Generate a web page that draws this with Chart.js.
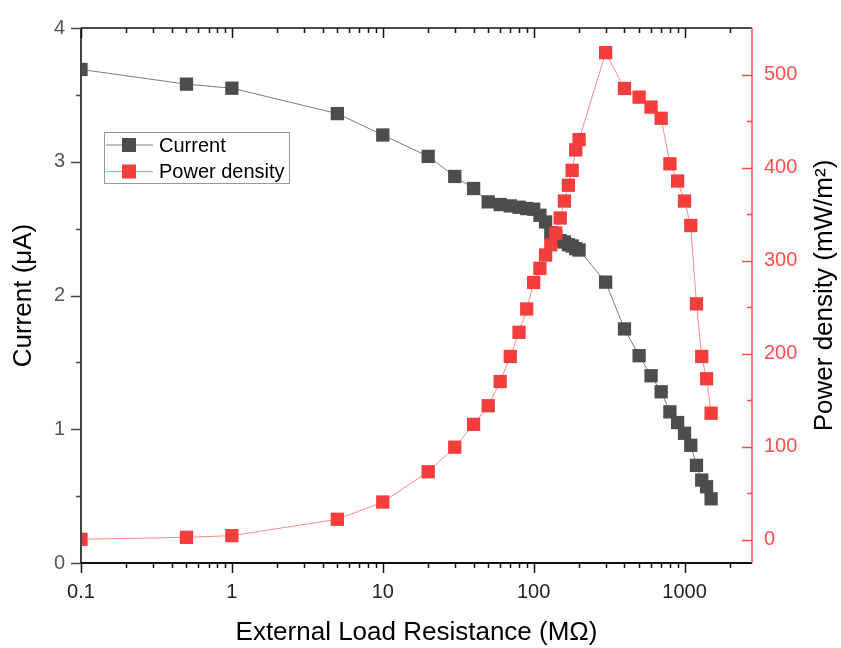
<!DOCTYPE html>
<html>
<head>
<meta charset="utf-8">
<script src="https://cdn.jsdelivr.net/npm/chart.js@4.4.0/dist/chart.umd.min.js"></script>
<style>
  body { margin: 0; background: #fff; }
  #wrap { width: 841px; height: 648px; position: relative; }
</style>
</head>
<body>
<div id="wrap"><canvas id="chart"></canvas></div>
<script>
// external load resistance (MOhm)
var resistance = [0.1, 0.5, 1, 5, 10, 20, 30, 40, 50, 60, 70, 80, 90, 100, 110, 120, 130, 140, 150,
  160, 170, 180, 190, 200, 300, 400, 500, 600, 700, 800, 900, 1000, 1100, 1200, 1300, 1400, 1500];
// current (uA)
var current = [3.69, 3.58, 3.55, 3.36, 3.20, 3.04, 2.89, 2.80, 2.70, 2.68, 2.67, 2.66, 2.65, 2.645, 2.60,
  2.55, 2.47, 2.44, 2.41, 2.40, 2.38, 2.37, 2.35, 2.34, 2.10, 1.75, 1.55, 1.40, 1.28, 1.13, 1.05, 0.97,
  0.88, 0.73, 0.62, 0.57, 0.48];
// power density (mW/m2)
var power = [0.5, 2.6, 4.4, 22, 40.5, 73, 99.5, 124, 144, 170, 197, 223, 248, 276.5, 291.7, 306, 317,
  329.6, 345.8, 364, 381, 397, 419, 430, 523.5, 485, 475.7, 465, 453, 404, 385.5, 364, 337.7, 253.5,
  197, 173, 136];

var xTicks = [0.1, 0.2, 0.3, 0.4, 0.5, 0.6, 0.7, 0.8, 0.9, 1, 2, 3, 4, 5, 6, 7, 8, 9,
  10, 20, 30, 40, 50, 60, 70, 80, 90, 100, 200, 300, 400, 500, 600, 700, 800, 900, 1000, 2000];
var xLabels = [0.1, 1, 10, 100, 1000];
var currentTicks = [0, 0.5, 1, 1.5, 2, 2.5, 3, 3.5, 4];
var currentLabels = [0, 1, 2, 3, 4];
var powerTicks = [0, 50, 100, 150, 200, 250, 300, 350, 400, 450, 500];
var powerLabels = [0, 100, 200, 300, 400, 500];

var RED = "#ff4d4d";
var FONT = "'Liberation Sans', Arial, sans-serif";

function setTicks(list) {
  return function (scale) {
    scale.ticks = list.map(function (v) { return { value: v }; });
  };
}

var frame = {
  id: "frame",
  afterDraw: function (chart) {
    var ctx = chart.ctx, ca = chart.chartArea;
    var sx = chart.scales.x, sy = chart.scales.y, sy2 = chart.scales.y2;
    ctx.save();

    // axis lines
    ctx.lineWidth = 2;
    ctx.strokeStyle = "#444";
    ctx.beginPath(); ctx.moveTo(ca.left, ca.top); ctx.lineTo(ca.left, ca.bottom); ctx.stroke();
    ctx.strokeStyle = "#111";
    ctx.beginPath(); ctx.moveTo(ca.left - 1, ca.bottom); ctx.lineTo(ca.right, ca.bottom); ctx.stroke();
    ctx.lineWidth = 1.5;
    ctx.beginPath(); ctx.moveTo(ca.left, ca.top); ctx.lineTo(ca.right, ca.top); ctx.stroke();
    ctx.strokeStyle = RED;
    ctx.beginPath(); ctx.moveTo(ca.right, ca.top); ctx.lineTo(ca.right, ca.bottom); ctx.stroke();

    // x ticks, bottom (outward) and top (inward)
    ctx.strokeStyle = "#111";
    ctx.lineWidth = 1.5;
    xTicks.forEach(function (v) {
      var px = Math.round(sx.getPixelForValue(v)) + 0.5;
      var len = xLabels.indexOf(v) >= 0 ? 10 : 5;
      ctx.beginPath();
      ctx.moveTo(px, ca.bottom); ctx.lineTo(px, ca.bottom + len);
      ctx.moveTo(px, ca.top); ctx.lineTo(px, ca.top + len);
      ctx.stroke();
    });

    // left ticks (outward)
    ctx.strokeStyle = "#444";
    currentTicks.forEach(function (v) {
      var py = Math.round(sy.getPixelForValue(v)) + 0.5;
      var len = currentLabels.indexOf(v) >= 0 ? 10 : 5;
      ctx.beginPath(); ctx.moveTo(ca.left, py); ctx.lineTo(ca.left - len, py); ctx.stroke();
    });

    // right ticks (inward)
    ctx.strokeStyle = RED;
    powerTicks.forEach(function (v) {
      var py = Math.round(sy2.getPixelForValue(v)) + 0.5;
      var len = powerLabels.indexOf(v) >= 0 ? 10 : 5;
      ctx.beginPath(); ctx.moveTo(ca.right, py); ctx.lineTo(ca.right - len, py); ctx.stroke();
    });

    // right axis title, reading bottom to top
    ctx.fillStyle = "#000";
    ctx.font = "26px " + FONT;
    ctx.textAlign = "center";
    ctx.textBaseline = "middle";
    ctx.translate(825, (ca.top + ca.bottom) / 2);
    ctx.rotate(-Math.PI / 2);
    ctx.fillText("Power density (mW/m\u00b2)", 0, 0);
    ctx.setTransform(1, 0, 0, 1, 0, 0);

    // legend box
    var lx = 104, ly = 132, lw = 185, lh = 51;
    ctx.strokeStyle = "#999";
    ctx.lineWidth = 1;
    ctx.strokeRect(lx + 0.5, ly + 0.5, lw, lh);
    ctx.font = "20px " + FONT;
    ctx.textAlign = "left";
    chart.data.datasets.slice().reverse().forEach(function (ds, i) {
      var ry = ly + 13 + i * 26.5;
      ctx.strokeStyle = ds.borderColor;
      ctx.beginPath(); ctx.moveTo(lx + 2, ry); ctx.lineTo(lx + 49, ry); ctx.stroke();
      ctx.fillStyle = ds.pointBackgroundColor;
      ctx.fillRect(lx + 18, ry - 7, 14, 14);
      ctx.fillStyle = "#000";
      ctx.fillText(ds.label, lx + 55, ry + 1);
    });
    ctx.restore();
  }
};

new Chart(document.getElementById("chart"), {
  type: "line",
  data: {
    datasets: [
      {
        label: "Power density",
        data: resistance.map(function (r, i) { return { x: r, y: power[i] }; }),
        yAxisID: "y2",
        order: 0,
        borderColor: "#ff8a8a",
        borderWidth: 1,
        pointStyle: "rect",
        pointRadius: 9.4,
        pointBorderWidth: 0,
        pointBackgroundColor: "#f43d3d",
        pointBorderColor: "#f43d3d",
        tension: 0
      },
      {
        label: "Current",
        data: resistance.map(function (r, i) { return { x: r, y: current[i] }; }),
        yAxisID: "y",
        order: 1,
        borderColor: "#7a7a7a",
        borderWidth: 1,
        pointStyle: "rect",
        pointRadius: 9.4,
        pointBorderWidth: 0,
        pointBackgroundColor: "#4d4d4d",
        pointBorderColor: "#4d4d4d",
        tension: 0
      }
    ]
  },
  options: {
    responsive: true,
    maintainAspectRatio: false,
    devicePixelRatio: 1,
    animation: false,
    layout: { padding: { top: 22, left: 0, right: 0, bottom: 0 } },
    plugins: { legend: { display: false }, tooltip: { enabled: false } },
    scales: {
      x: {
        type: "logarithmic",
        position: "bottom",
        min: 0.1,
        max: 2800,
        afterBuildTicks: setTicks(xTicks),
        afterFit: function (s) { s.height = 85; },
        grid: { display: false, drawTicks: false },
        border: { display: false },
        ticks: {
          autoSkip: false,
          maxRotation: 0,
          padding: 17,
          color: "#222",
          font: { family: FONT, size: 20 },
          callback: function (v) { return xLabels.indexOf(v) >= 0 ? String(v) : ""; }
        },
        title: {
          display: true,
          text: "External Load Resistance (M\u03a9)",
          color: "#000",
          font: { family: FONT, size: 26 },
          padding: 0
        }
      },
      y: {
        type: "linear",
        position: "left",
        min: 0,
        max: 4,
        afterBuildTicks: setTicks(currentTicks),
        afterFit: function (s) { s.width = 81; },
        grid: { display: false, drawTicks: false },
        border: { display: false },
        ticks: {
          padding: 16,
          color: "#555",
          font: { family: FONT, size: 20 },
          callback: function (v) { return currentLabels.indexOf(v) >= 0 ? String(v) : ""; }
        },
        title: {
          display: true,
          text: "Current (\u03bcA)",
          color: "#000",
          font: { family: FONT, size: 26 },
          padding: { top: 8 }
        }
      },
      y2: {
        type: "linear",
        position: "right",
        min: -25,
        max: 550,
        afterBuildTicks: setTicks(powerTicks),
        afterFit: function (s) { s.width = 89; },
        grid: { display: false, drawTicks: false },
        border: { display: false },
        ticks: {
          padding: 12,
          color: RED,
          font: { family: FONT, size: 20 },
          callback: function (v) { return powerLabels.indexOf(v) >= 0 ? String(v) : ""; }
        }
      }
    }
  },
  plugins: [frame]
});
</script>
</body>
</html>
